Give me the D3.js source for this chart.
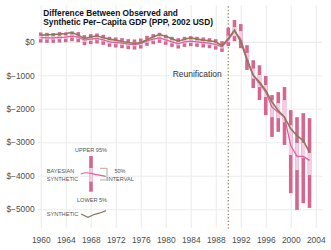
<!DOCTYPE html>
<html>
<head>
<meta charset="utf-8">
<script src="https://cdn.jsdelivr.net/npm/d3@7/dist/d3.min.js"></script>
<style>
  body { margin: 0; background: #fff; }
  svg { display: block; font-family: "Liberation Sans", Arial, sans-serif; }
</style>
</head>
<body>
<div id="chart"></div>
<script>
// Constants for the chart
const WIDTH = 331;
const HEIGHT = 250;
const PLOT = { left: 37.6, right: 322, top: 5, bottom: 228 };

// data, 1960 - 2003
const years = [1960, 1961, 1962, 1963, 1964, 1965, 1966, 1967, 1968, 1969,
  1970, 1971, 1972, 1973, 1974, 1975, 1976, 1977, 1978, 1979,
  1980, 1981, 1982, 1983, 1984, 1985, 1986, 1987, 1988, 1989,
  1990, 1991, 1992, 1993, 1994, 1995, 1996, 1997, 1998, 1999,
  2000, 2001, 2002, 2003];

// bayesian synthetic (median of posterior)
const bayesMedian = [130, 120, 120, 130, 140, 170, 140, 50, 80, 100,
  60, 0, -20, -40, -70, -80, -50, 30, 80, 120,
  60, 0, -50, 0, 20, 0, -20, -40, -80, -150,
  50, 320, 80, -500, -1000, -1250, -1500, -1950, -2100, -2250,
  -3100, -3420, -3420, -3540];

// classic synthetic control
const synthetic = [200, 210, 220, 230, 250, 280, 200, 100, 140, 180,
  120, 80, 50, 10, -20, -50, -20, 60, 150, 220,
  170, 90, 20, 80, 120, 80, 50, 30, 0, -120,
  100, 350, 0, -550, -1000, -1200, -1450, -1800, -2050, -2250,
  -2600, -2800, -2950, -3300];

const upper95 = [280, 270, 260, 290, 280, 310, 290, 200, 230, 250,
  210, 150, 130, 110, 80, 70, 100, 180, 230, 270,
  210, 150, 110, 150, 170, 150, 130, 110, 80, 20,
  420, 650, 530, -100, -550, -700, -1020, -1590, -1500, -1350,
  -2040, -2250, -2130, -2280];

const upper75 = [180, 170, 170, 180, 190, 220, 190, 100, 130, 150,
  110, 50, 30, 10, -20, -30, 0, 80, 130, 170,
  110, 50, 0, 50, 70, 50, 30, 10, -30, -100,
  180, 440, 320, -330, -800, -990, -1290, -1750, -1830, -1740,
  -2490, -3020, -3020, -3320];

const lower25 = [80, 70, 70, 80, 90, 120, 90, 0, 30, 50,
  10, -50, -70, -90, -120, -130, -100, -20, 30, 70,
  10, -50, -100, -50, -30, -50, -70, -90, -130, -200,
  -10, 170, 50, -540, -1100, -1350, -1650, -2250, -2280, -2400,
  -3380, -3830, -3470, -3980];

const lower5 = [-20, -30, -30, -20, -10, 20, -10, -100, -70, -50,
  -90, -150, -170, -190, -220, -230, -200, -120, -70, -30,
  -90, -150, -200, -150, -130, -150, -170, -190, -230, -300,
  -130, 20, -190, -840, -1380, -1740, -2190, -2840, -2690, -3080,
  -4520, -5020, -4820, -4960];

const xTicks = [1960, 1964, 1968, 1972, 1976, 1980, 1984, 1988, 1992, 1996, 2000, 2004];
const yTicks = [0, -1000, -2000, -3000, -4000, -5000];
const REUNIFICATION = 1990;

const DARK_PINK = '#d5678f';
const LIGHT_PINK = '#f3cde6';
const PINK_LINE = '#de5f98';
const BROWN = '#8a7b58';

let svg, x, y;

setup();

function setup () {
  svg = d3.select('#chart')
    .append('svg')
    .attr('width', WIDTH)
    .attr('height', HEIGHT);

  x = d3.scaleLinear()
    .domain([1959.5, 2005])
    .range([PLOT.left, PLOT.right]);

  y = d3.scaleLinear()
    .domain([-5560, 1100])
    .range([PLOT.bottom, PLOT.top]);

  const data = years.map((yr, i) => ({
    year: yr,
    median: bayesMedian[i],
    synth: synthetic[i],
    q95: upper95[i],
    q75: upper75[i],
    q25: lower25[i],
    q05: lower5[i]
  }));

  drawGrid();
  drawBands(data);
  drawLines(data);
  drawLegend();
  drawTitle();
}

function drawGrid () {
  // vertical grid + year labels
  svg.append('g')
    .attr('transform', `translate(0, ${PLOT.bottom})`)
    .call(d3.axisBottom(x).tickValues(xTicks).tickFormat(d3.format('d'))
      .tickSize(-(PLOT.bottom - PLOT.top)).tickPadding(9))
    .call(g => g.select('.domain').remove())
    .call(g => g.selectAll('line').attr('stroke', '#ececec').attr('stroke-width', 1.1))
    .call(g => g.selectAll('text').attr('fill', '#4d4d4d').attr('font-size', '8.4px'));

  // horizontal grid + dollar labels
  svg.append('g')
    .attr('transform', `translate(${PLOT.left}, 0)`)
    .call(d3.axisLeft(y).tickValues(yTicks)
      .tickFormat(d => '$' + (d < 0 ? '\u2212' + Math.abs(d) : d))
      .tickSize(-(PLOT.right - PLOT.left)).tickPadding(3))
    .call(g => g.select('.domain').remove())
    .call(g => g.selectAll('line').attr('stroke', '#ececec').attr('stroke-width', 1.1))
    .call(g => g.selectAll('text').attr('fill', '#4d4d4d').attr('font-size', '8.4px'));

  // reunification marker
  svg.append('line')
    .attr('x1', x(REUNIFICATION)).attr('x2', x(REUNIFICATION))
    .attr('y1', 7).attr('y2', PLOT.bottom)
    .attr('stroke', BROWN)
    .attr('stroke-width', 1.4)
    .attr('stroke-linecap', 'round')
    .attr('stroke-dasharray', '0.1,3.3');

  svg.append('text')
    .attr('x', x(REUNIFICATION) - 31)
    .attr('y', 77)
    .attr('text-anchor', 'middle')
    .attr('font-size', '8.5px')
    .attr('fill', '#333')
    .text('Reunification');
}

function drawBands (data) {
  const BAR_W = 3.6;

  svg.append('g').selectAll('rect')
    .data(data)
    .enter()
    .append('rect')
    .attr('x', d => x(d.year) - BAR_W / 2)
    .attr('y', d => y(d.q95))
    .attr('width', BAR_W)
    .attr('height', d => y(d.q05) - y(d.q95))
    .attr('fill', DARK_PINK);

  svg.append('g').selectAll('rect')
    .data(data)
    .enter()
    .append('rect')
    .attr('x', d => x(d.year) - BAR_W / 2)
    .attr('y', d => y(d.q75))
    .attr('width', BAR_W)
    .attr('height', d => y(d.q25) - y(d.q75))
    .attr('fill', LIGHT_PINK);
}

function drawLines (data) {
  const medianLine = d3.line()
    .x(d => x(d.year))
    .y(d => y(d.median));

  const synthLine = d3.line()
    .x(d => x(d.year))
    .y(d => y(d.synth));

  svg.append('path')
    .datum(data)
    .attr('d', medianLine)
    .attr('fill', 'none')
    .attr('stroke', PINK_LINE)
    .attr('stroke-width', 1.3);

  svg.append('path')
    .datum(data)
    .attr('d', synthLine)
    .attr('fill', 'none')
    .attr('stroke', BROWN)
    .attr('stroke-width', 1.6);
}

function drawLegend () {
  const lg = svg.append('g')
    .attr('font-size', '5.6px')
    .attr('fill', '#555');

  lg.append('text').attr('x', 91).attr('y', 152).attr('text-anchor', 'middle').text('UPPER 95%');
  lg.append('text').attr('x', 92).attr('y', 202).attr('text-anchor', 'middle').text('LOWER 5%');
  lg.append('text').attr('x', 46.7).attr('y', 172.7).text('BAYESIAN');
  lg.append('text').attr('x', 46.7).attr('y', 180.7).text('SYNTHETIC');
  lg.append('text').attr('x', 120).attr('y', 172.7).attr('text-anchor', 'middle').text('50%');
  lg.append('text').attr('x', 120.5).attr('y', 180.7).attr('text-anchor', 'middle').text('INTERVAL');
  lg.append('text').attr('x', 46.7).attr('y', 216).text('SYNTHETIC');

  // key bar
  lg.append('rect').attr('x', 89.2).attr('y', 156).attr('width', 3.6).attr('height', 35.7).attr('fill', DARK_PINK);
  lg.append('rect').attr('x', 89.2).attr('y', 168).attr('width', 3.6).attr('height', 13.7).attr('fill', LIGHT_PINK);

  // bracket for the 50% interval
  lg.append('path')
    .attr('d', 'M100,168.3H107V180H100')
    .attr('fill', 'none')
    .attr('stroke', '#b8ad95')
    .attr('stroke-width', 1);

  const curve = d3.line().curve(d3.curveBasis);
  lg.append('path')
    .attr('d', curve([[80.7, 174], [86, 172.3], [91, 173.3], [98, 175], [105.7, 176.3]]))
    .attr('fill', 'none')
    .attr('stroke', PINK_LINE)
    .attr('stroke-width', 1.2);

  lg.append('path')
    .attr('d', d3.line()([[81, 214], [88, 217.3], [94, 214.5], [100, 213], [106, 210.7]]))
    .attr('fill', 'none')
    .attr('stroke', BROWN)
    .attr('stroke-width', 1.3);
}

function drawTitle () {
  const t = svg.append('text')
    .attr('x', 43.3)
    .attr('font-size', '8.3px')
    .attr('font-weight', 'bold')
    .attr('fill', '#111');
  t.append('tspan').attr('x', 43.3).attr('y', 15.5).text('Difference Between Observed and');
  t.append('tspan').attr('x', 43.3).attr('y', 24.8).text('Synthetic Per\u2212Capita GDP (PPP, 2002 USD)');
}
</script>
</body>
</html>
